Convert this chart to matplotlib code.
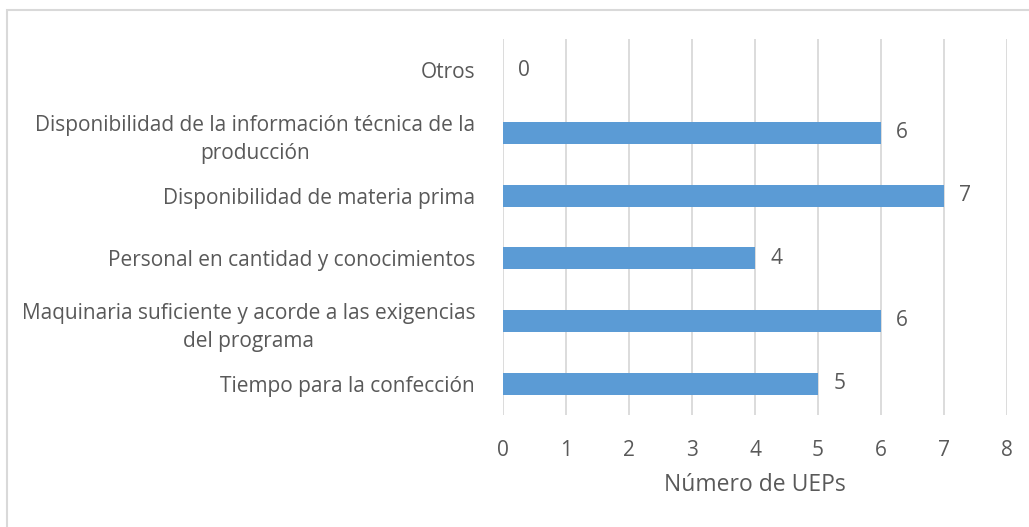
import matplotlib
matplotlib.use("Agg")
import matplotlib.pyplot as plt
from matplotlib.patches import Rectangle

categories = [
    "Tiempo para la confección",
    "Maquinaria suficiente y acorde a las exigencias\ndel programa",
    "Personal en cantidad y conocimientos",
    "Disponibilidad de materia prima",
    "Disponibilidad de la información técnica de la\nproducción",
    "Otros",
]
values = [5, 6, 4, 7, 6, 0]
xticks = [0, 1, 2, 3, 4, 5, 6, 7, 8]
xlabel = "Número de UEPs"

plt.rcParams['font.family'] = ['Open Sans', 'DejaVu Sans']
text_color = "#595959"
bar_color = "#5B9BD5"
grid_color = "#D9D9D9"

W, H = 1029, 527
fig = plt.figure(figsize=(W / 100, H / 100), dpi=100)
fig.patch.set_facecolor("white")

# outer chart border (only top/left visible in reference)
fig.add_artist(Rectangle((7 / W, -0.05), 1.2, 1 - 10 / H + 0.05, transform=fig.transFigure,
                         fill=False, edgecolor="#D9D9D9", linewidth=1.5))

ax = fig.add_axes([503 / W, 1 - 415 / H, (1007 - 503) / W, (415 - 39) / H])
ypos = list(range(len(categories)))
ax.barh(ypos, values, height=0.35, color=bar_color, zorder=3)
ax.set_xlim(0, 8)
ax.set_ylim(-0.5, len(categories) - 0.5)
ax.set_xticks(xticks)
ax.set_xticklabels([str(t) for t in xticks])
ax.set_yticks(ypos)
ax.set_yticklabels(categories, multialignment="center", linespacing=1.5)
for s in ax.spines.values():
    s.set_visible(False)
ax.grid(axis="x", color=grid_color, linewidth=1.3, zorder=0)
ax.tick_params(axis="x", length=0, pad=18, labelsize=15, labelcolor=text_color)
ax.tick_params(axis="y", length=0, pad=20, labelsize=15, labelcolor=text_color)

for y, v in zip(ypos, values):
    ax.annotate(str(v), (v, y), xytext=(11, 0), textcoords="offset points",
                va="center", ha="left", fontsize=15, color=text_color)

fig.text((503 + 1007) / 2 / W, 1 - 485 / H, xlabel, ha="center", va="center",
         fontsize=16.5, color=text_color)

fig.savefig("out.png", dpi=100)
